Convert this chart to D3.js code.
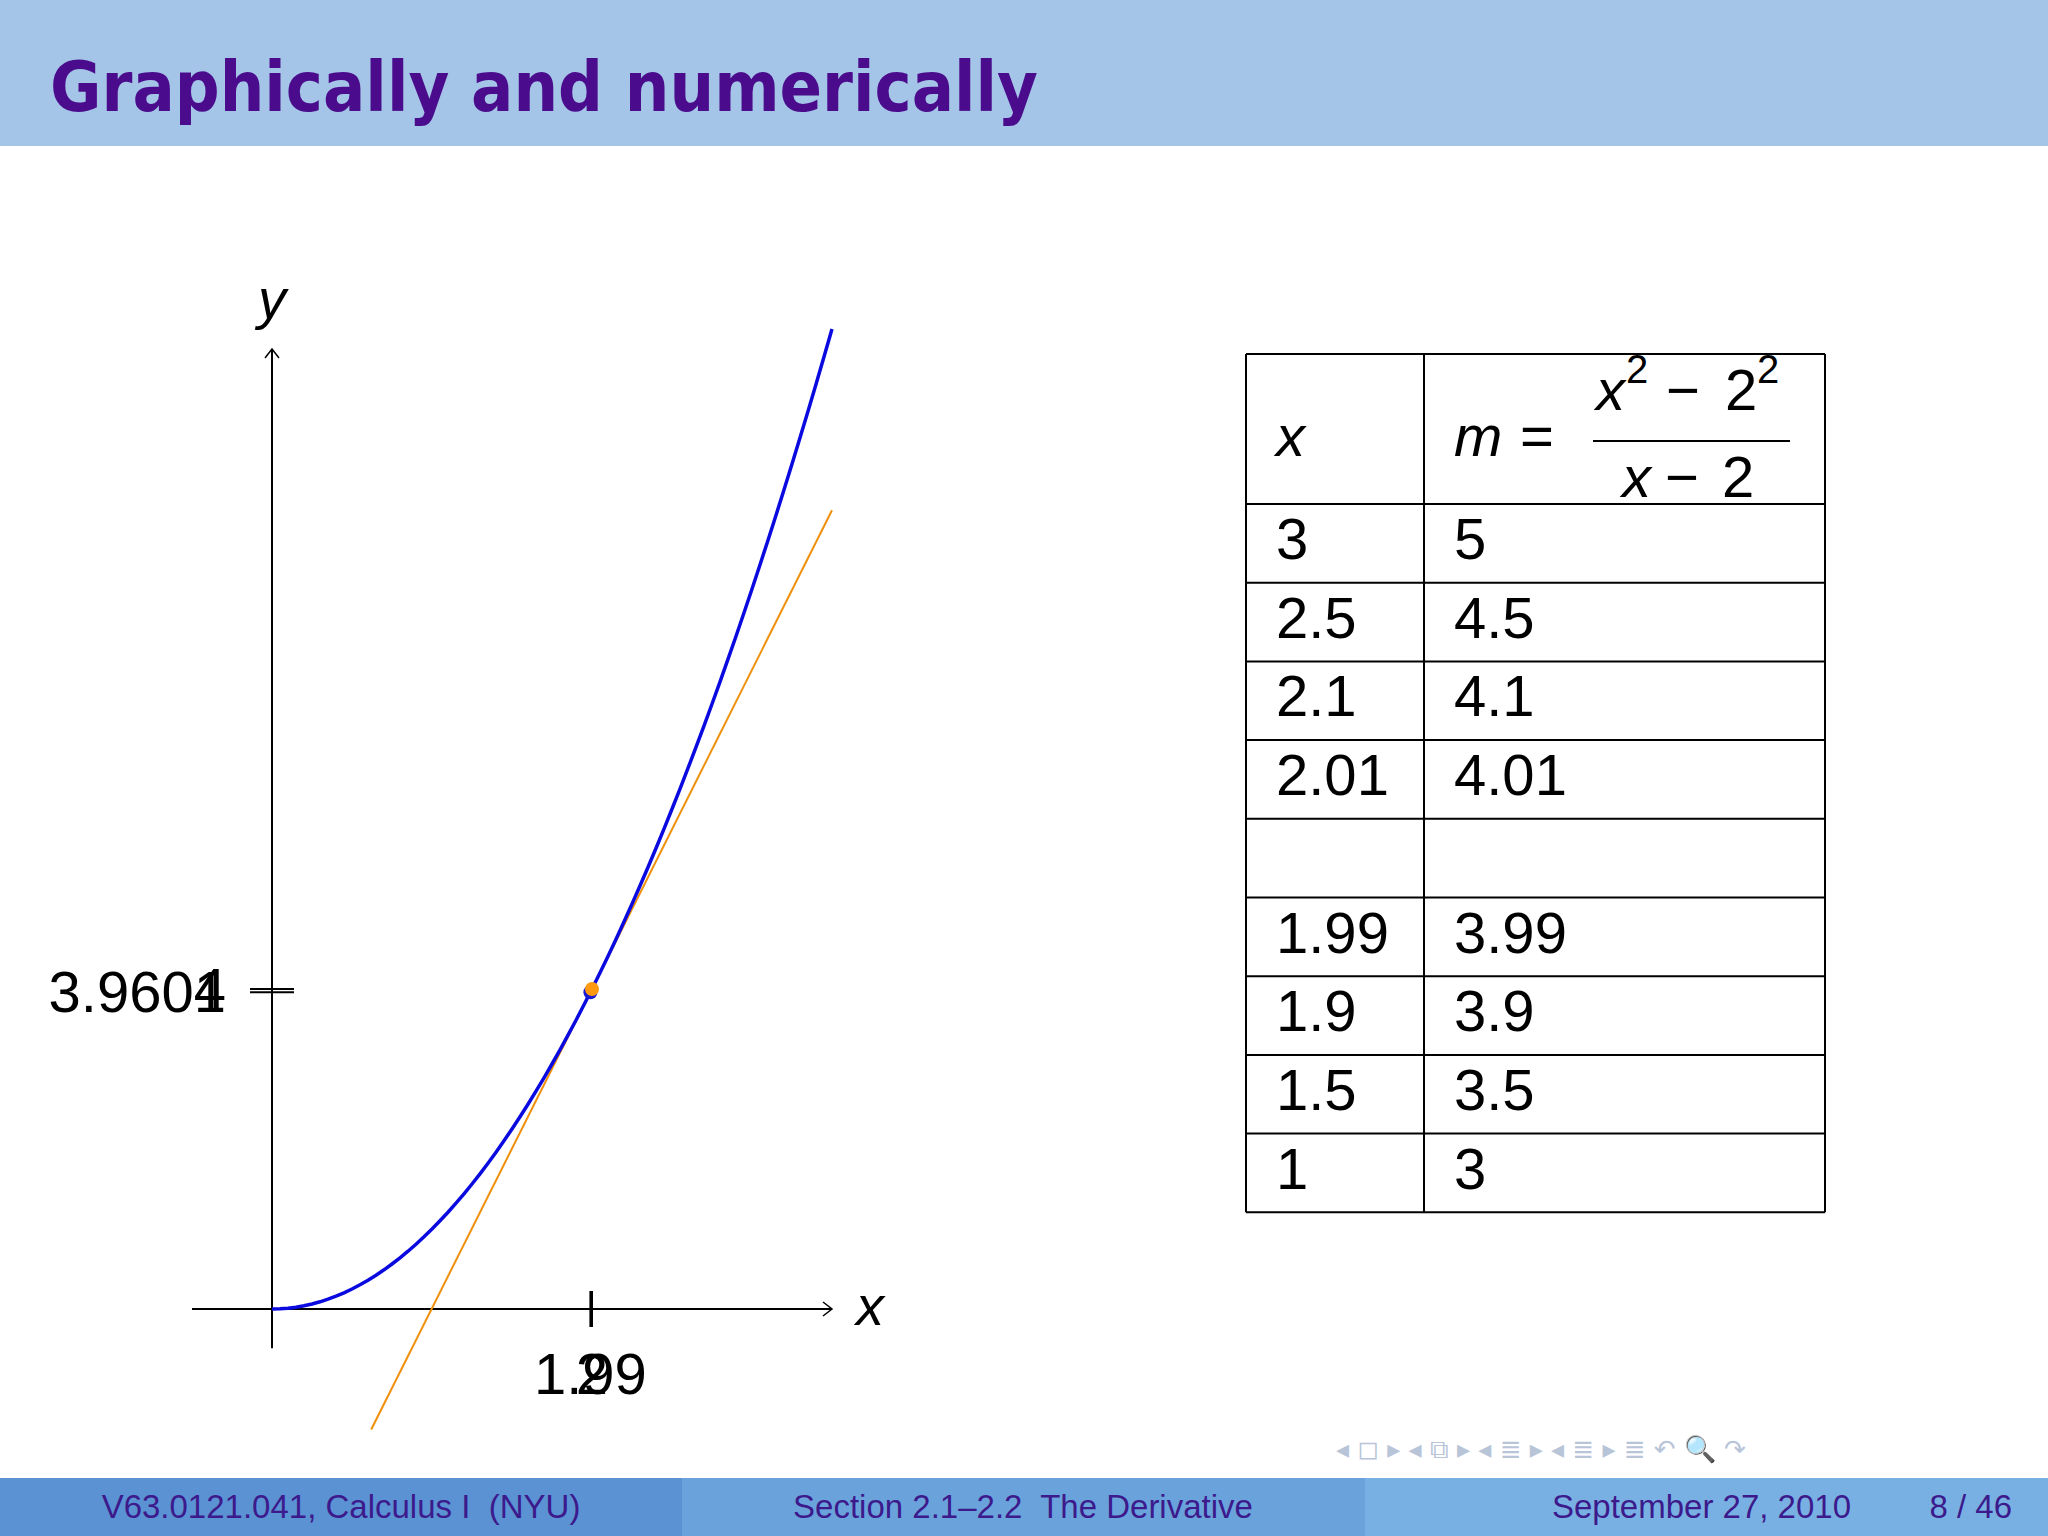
<!DOCTYPE html><html><head><meta charset="utf-8">
<script src="https://cdn.jsdelivr.net/npm/d3@7"></script>
<style>body{margin:0;background:#fff}svg{display:block}</style></head><body>
<script>
const title = "Graphically and numerically";
const curveX = d3.range(0, 3.5001, 0.05);       // sample grid for y = x^2
const xTicks = [1.99, 2];
const yTicks = [3.9601, 4];
const tableX = ["3","2.5","2.1","2.01","","1.99","1.9","1.5","1"];
const tableM = ["5","4.5","4.1","4.01","","3.99","3.9","3.5","3"];
const footer = ["V63.0121.041, Calculus I  (NYU)","Section 2.1–2.2  The Derivative","September 27, 2010","8 / 46"];

const W=2048,H=1536;
const svg=d3.select("body").append("svg").attr("width",W).attr("height",H);
svg.append("rect").attr("width",W).attr("height",146).attr("fill","#a4c5e7");
svg.append("text").attr("x",50).attr("y",111).text(title)
  .attr("font-family","'DejaVu Sans', sans-serif").attr("font-weight",700).attr("font-size",70).attr("fill","#4a0c8c")
  .attr("textLength",988).attr("lengthAdjust","spacingAndGlyphs");

const x=d3.scaleLinear().domain([0,3.5]).range([272,832]);
const y=d3.scaleLinear().domain([0,12]).range([1309,349]);
const g=svg.append("g");
g.append("line").attr("x1",x(-0.5)).attr("x2",x(3.5)).attr("y1",y(0)).attr("y2",y(0)).attr("stroke","#000").attr("stroke-width",2);
g.append("line").attr("x1",x(0)).attr("x2",x(0)).attr("y1",y(-0.49)).attr("y2",y(12)).attr("stroke","#000").attr("stroke-width",2);
g.append("path").attr("d",`M${x(3.5)-9},${y(0)-7}L${x(3.5)},${y(0)}L${x(3.5)-9},${y(0)+7}`).attr("fill","none").attr("stroke","#000").attr("stroke-width",1.5);
g.append("path").attr("d",`M${x(0)-7},${y(12)+9}L${x(0)},${y(12)}L${x(0)+7},${y(12)+9}`).attr("fill","none").attr("stroke","#000").attr("stroke-width",1.5);
const lf="Liberation Sans, Arial, sans-serif";
g.append("text").attr("x",856).attr("y",1325).text("x").attr("font-family",lf).attr("font-style","italic").attr("font-size",56);
g.append("text").attr("x",272).attr("y",318).attr("text-anchor","middle").text("y").attr("font-family",lf).attr("font-style","italic").attr("font-size",56);
xTicks.forEach(t=>{
  g.append("line").attr("x1",x(t)).attr("x2",x(t)).attr("y1",y(0)-18).attr("y2",y(0)+18).attr("stroke","#000").attr("stroke-width",2);
  g.append("text").attr("x",x(t)).attr("y",1394).attr("text-anchor","middle").text(t).attr("font-family",lf).attr("font-size",58);
});
yTicks.forEach(t=>{
  g.append("line").attr("x1",x(0)-22).attr("x2",x(0)+22).attr("y1",y(t)).attr("y2",y(t)).attr("stroke","#000").attr("stroke-width",2);
  g.append("text").attr("x",226).attr("y",y(t)+20).attr("text-anchor","end").text(t).attr("font-family",lf).attr("font-size",58);
});
const m=(4-3.9601)/(2-1.99);
const sec=[0.62,3.5].map(v=>[v,4+m*(v-2)]);
g.append("path").attr("d",d3.line().x(d=>x(d[0])).y(d=>y(d[1]))(sec)).attr("stroke","#f0900a").attr("stroke-width",2).attr("fill","none");
g.append("path").attr("d",d3.line().x(d=>x(d)).y(d=>y(d*d))(curveX)).attr("stroke","#0a0ae0").attr("stroke-width",3.5).attr("fill","none");
g.append("circle").attr("cx",x(1.99)).attr("cy",y(3.9601)).attr("r",7).attr("fill","#1a1ad0");
g.append("circle").attr("cx",x(2)).attr("cy",y(4)).attr("r",7).attr("fill","#ff9a10");

const tx=[1246,1424,1825], rowY=[354,504];
for(let i=1;i<=tableX.length;i++) rowY.push(504+i*78.7);
const t=svg.append("g").attr("stroke","#000").attr("stroke-width",2);
rowY.forEach(v=>t.append("line").attr("x1",tx[0]).attr("x2",tx[2]).attr("y1",v).attr("y2",v));
tx.forEach(v=>t.append("line").attr("x1",v).attr("x2",v).attr("y1",rowY[0]).attr("y2",rowY[rowY.length-1]));
const tf=(xx,yy,s,o={})=>svg.append("text").attr("x",xx).attr("y",yy).text(s).attr("font-family",lf).attr("font-size",o.fs||58).attr("font-style",o.it?"italic":null).attr("text-anchor",o.a||"start");
tf(1276,456,"x",{it:1});
tf(1454,456,"m",{it:1}); tf(1520,456,"=");
svg.append("line").attr("x1",1593).attr("x2",1790).attr("y1",441).attr("y2",441).attr("stroke","#000").attr("stroke-width",2);
tf(1596,410,"x",{it:1}); tf(1626,383,"2",{fs:40}); tf(1666,410,"−"); tf(1725,410,"2"); tf(1757,383,"2",{fs:40});
tf(1622,497,"x",{it:1}); tf(1665,497,"−"); tf(1722,497,"2");
tableX.forEach((v,i)=>{const yy=rowY[i+1]+55; tf(1276,yy,v); tf(1454,yy,tableM[i]);});

svg.append("text").attr("x",1336).attr("y",1458).text("◂ ◻ ▸ ◂ ⧉ ▸ ◂ ≣ ▸ ◂ ≣ ▸   ≣   ↶ 🔍 ↷").attr("font-family","DejaVu Sans").attr("font-size",26).attr("fill","#b8c4d8");

const fc=["#5b92d4","#6aa3dc","#79b0e3"];
[[0,682],[682,1365],[1365,2048]].forEach((s,i)=>svg.append("rect").attr("x",s[0]).attr("y",1478).attr("width",s[1]-s[0]).attr("height",58).attr("fill",fc[i]));
const ff=(xx,s,a)=>svg.append("text").attr("x",xx).attr("y",1518).text(s).attr("text-anchor",a).attr("font-family",lf).attr("font-size",33).attr("fill","#3c1a8c").attr("xml:space","preserve");
ff(341,footer[0],"middle");ff(1023,footer[1],"middle");ff(1851,footer[2],"end");ff(2012,footer[3],"end");
</script></body></html>
